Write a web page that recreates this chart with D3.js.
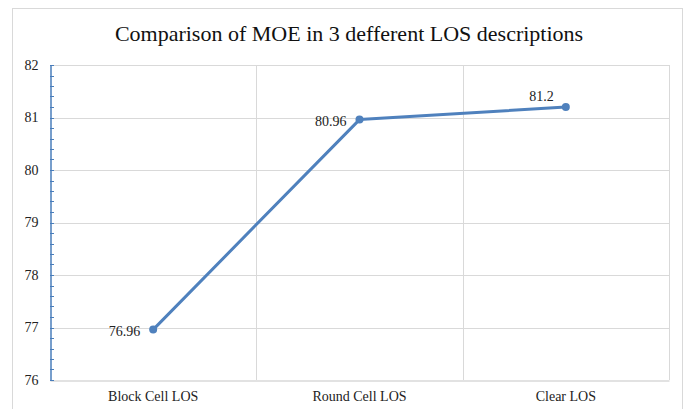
<!DOCTYPE html>
<html><head><meta charset="utf-8">
<script src="https://cdn.jsdelivr.net/npm/d3@7"></script>
<style>body{margin:0;background:#fff}svg{display:block}
svg text{font-family:"Liberation Serif","Times New Roman",Tinos,"DejaVu Serif",serif;}</style>
</head><body>
<script>
const categories = ["Block Cell LOS", "Round Cell LOS", "Clear LOS"];
const values = [76.96, 80.96, 81.2];
const yTicks = [76, 77, 78, 79, 80, 81, 82];
const title = "Comparison of MOE in 3 defferent LOS descriptions";

const W = 689, H = 409;
const svg = d3.select("body").append("svg").attr("width", W).attr("height", H);

// outer chart border
svg.append("rect").attr("x", 12.5).attr("y", 8.5).attr("width", 670).attr("height", 420)
  .attr("fill", "none").attr("stroke", "#d9d9d9").attr("stroke-width", 1);

const pLeft = 50, pRight = 669, pTop = 65, pBottom = 380;
const x = d3.scaleBand().domain(categories).range([pLeft, pRight]);
const y = d3.scaleLinear().domain([76, 82]).range([pBottom, pTop]);

// horizontal gridlines
svg.append("g").selectAll("line").data(yTicks.slice(1)).join("line")
  .attr("x1", pLeft).attr("x2", pRight)
  .attr("y1", d => Math.round(y(d)) + 0.5).attr("y2", d => Math.round(y(d)) + 0.5)
  .attr("stroke", "#d9d9d9").attr("stroke-width", 1);

// vertical gridlines at band boundaries
svg.append("g").selectAll("line").data(categories).join("line")
  .attr("x1", d => Math.round(x(d) + x.bandwidth()) + 0.5)
  .attr("x2", d => Math.round(x(d) + x.bandwidth()) + 0.5)
  .attr("y1", pTop).attr("y2", pBottom)
  .attr("stroke", "#d9d9d9").attr("stroke-width", 1);

// bottom axis
const xAxis = svg.append("g").attr("transform", `translate(0,${pBottom + 0.5})`)
  .call(d3.axisBottom(x).tickSize(0).tickPadding(11));
xAxis.attr("font-family", null);
xAxis.select(".domain").attr("stroke", "#d9d9d9").attr("stroke-width", 1.5);
xAxis.selectAll("text").attr("font-size", 14).attr("fill", "#222");

// left axis: minor ticks
const minor = d3.range(76, 82.0001, 0.2);
svg.append("g").selectAll("line").data(minor).join("line")
  .attr("x1", pLeft).attr("x2", pLeft + 4)
  .attr("y1", d => Math.round(y(d)) + 0.5).attr("y2", d => Math.round(y(d)) + 0.5)
  .attr("stroke", "#4a7ebb").attr("stroke-width", 1);

const yAxis = svg.append("g").attr("transform", `translate(${pLeft + 0.5},0)`)
  .call(d3.axisLeft(y).tickValues(yTicks).tickSize(0).tickPadding(12).tickFormat(d3.format("d")));
yAxis.attr("font-family", null);
yAxis.select(".domain").attr("stroke", "#4a7ebb").attr("stroke-width", 1.5);
yAxis.selectAll(".tick line").remove();
yAxis.selectAll("text").attr("font-size", 14).attr("fill", "#222");

// line
const cx = (d, i) => x(categories[i]) + x.bandwidth() / 2;
svg.append("path").datum(values)
  .attr("d", d3.line().x(cx).y(d => y(d)))
  .attr("fill", "none").attr("stroke", "#4f81bd").attr("stroke-width", 3)
  .attr("stroke-linejoin", "round");

svg.append("g").selectAll("circle").data(values).join("circle")
  .attr("cx", cx).attr("cy", d => y(d)).attr("r", 4).attr("fill", "#4f81bd");

// data labels
const labelDx = [-13, -13, -12];
const labelDy = [6, 6, -6];
svg.append("g").selectAll("text").data(values).join("text")
  .attr("x", (d, i) => cx(d, i) + labelDx[i])
  .attr("y", (d, i) => y(d) + labelDy[i])
  .attr("text-anchor", "end")
  .attr("font-size", 14).attr("fill", "#222")
  .text(d => d);

// title
svg.append("text").attr("x", 349).attr("y", 41).attr("text-anchor", "middle")
  .attr("font-size", 22).attr("fill", "#111").text(title);
</script>
</body></html>
